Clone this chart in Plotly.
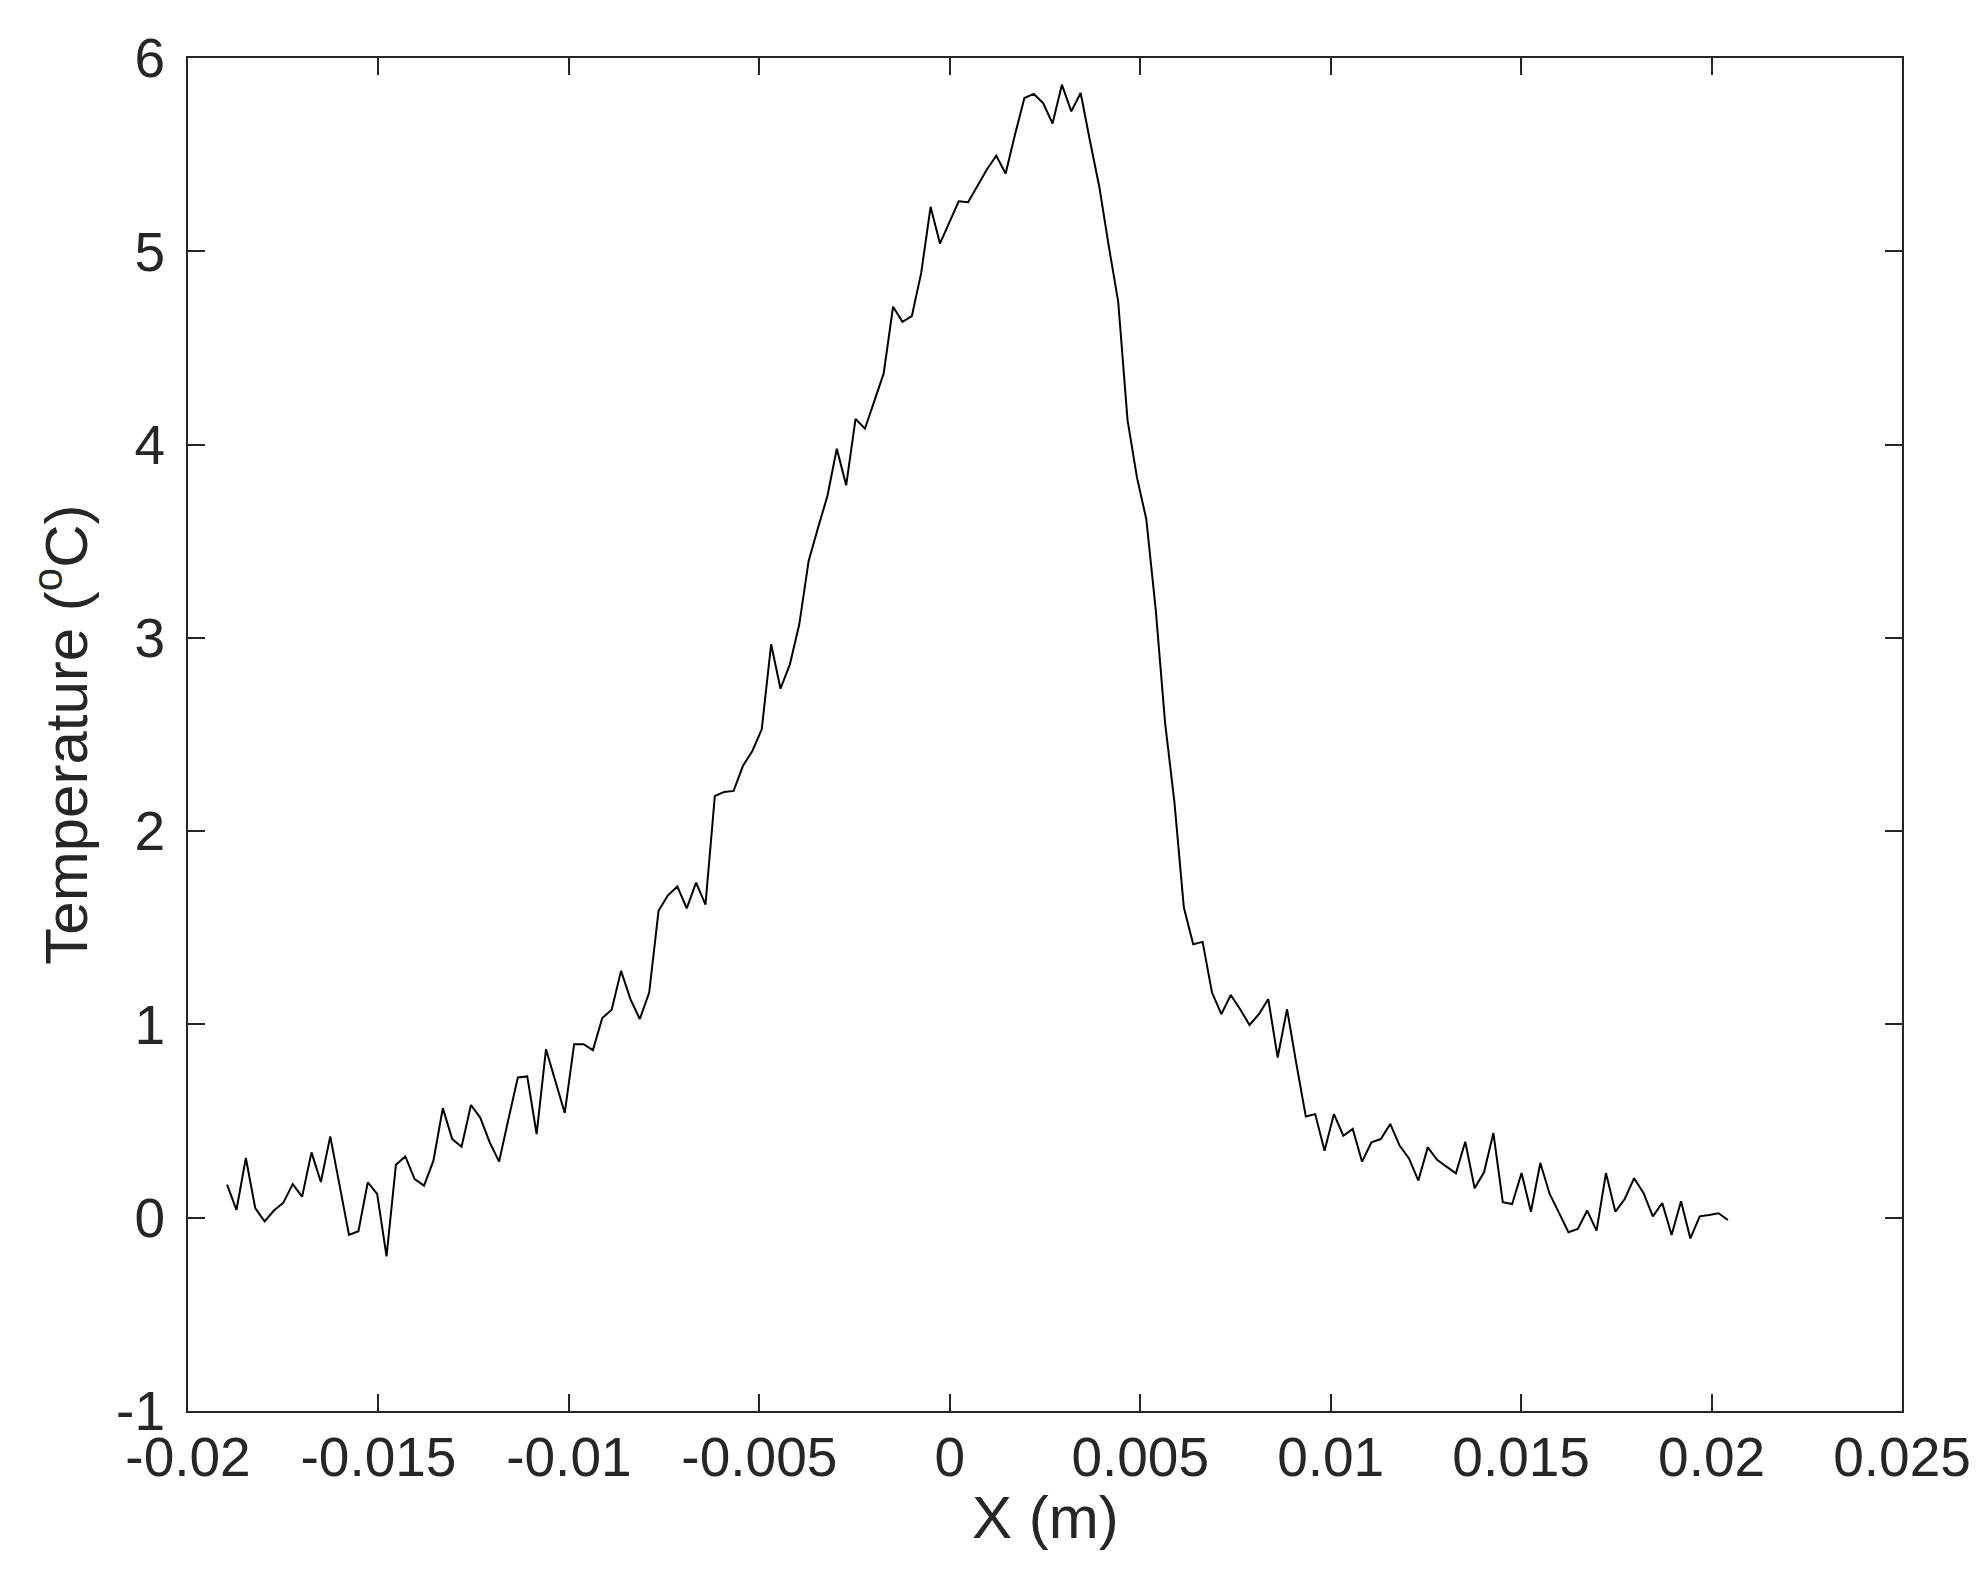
import plotly.graph_objects as go

# Sampling grid of the profile (m): first position and uniform spacing
X_START = -0.018974
X_STEP = 0.00024627

# Temperature readings (deg C) along the profile
temperature = [
    0.171, 0.040, 0.309, 0.050, -0.019, 0.037, 0.078, 0.174, 0.109, 0.338,
    0.185, 0.421, 0.166, -0.089, -0.070, 0.183, 0.123, -0.200, 0.274, 0.317,
    0.200, 0.166, 0.295, 0.567, 0.407, 0.367, 0.583, 0.517, 0.390, 0.290,
    0.511, 0.726, 0.731, 0.433, 0.872, 0.707, 0.542, 0.898, 0.898, 0.867,
    1.033, 1.076, 1.277, 1.131, 1.028, 1.165, 1.588, 1.668, 1.714, 1.600,
    1.734, 1.620, 2.182, 2.203, 2.208, 2.338, 2.415, 2.527, 2.967, 2.737,
    2.863, 3.070, 3.398, 3.570, 3.734, 3.978, 3.789, 4.133, 4.082, 4.225,
    4.368, 4.713, 4.635, 4.664, 4.888, 5.230, 5.040, 5.150, 5.259, 5.254,
    5.335, 5.423, 5.494, 5.402, 5.604, 5.793, 5.814, 5.767, 5.661, 5.862,
    5.724, 5.819, 5.569, 5.330, 5.025, 4.740, 4.125, 3.830, 3.613, 3.147,
    2.560, 2.148, 1.605, 1.415, 1.427, 1.165, 1.053, 1.152, 1.079, 0.997,
    1.053, 1.131, 0.829, 1.079, 0.795, 0.524, 0.536, 0.347, 0.536, 0.424,
    0.459, 0.290, 0.390, 0.407, 0.485, 0.373, 0.307, 0.192, 0.364, 0.300,
    0.264, 0.230, 0.393, 0.152, 0.235, 0.438, 0.080, 0.071, 0.231, 0.031,
    0.283, 0.123, 0.025, -0.075, -0.058, 0.037, -0.067, 0.231, 0.031, 0.097,
    0.204, 0.128, 0.007, 0.076, -0.089, 0.085, -0.107, 0.007, 0.014, 0.023,
    -0.012,
]
x_pos = [X_START + i * X_STEP for i in range(len(temperature))]

x_tick_vals = [-0.02, -0.015, -0.01, -0.005, 0, 0.005, 0.01, 0.015, 0.02, 0.025]
x_tick_text = ["-0.02", "-0.015", "-0.01", "-0.005", "0", "0.005", "0.01", "0.015", "0.02", "0.025"]
y_tick_vals = [-1, 0, 1, 2, 3, 4, 5, 6]
y_tick_text = ["-1", "0", "1", "2", "3", "4", "5", "6"]

x_title = "X (m)"
y_title = "Temperature (<sup>o</sup>C)"

AX = "#262626"
FONT = "Liberation Sans, Arial, Helvetica, sans-serif"

fig = go.Figure()
fig.add_trace(go.Scatter(x=x_pos, y=temperature, mode="lines",
                         line=dict(color="black", width=2), showlegend=False))

axis_common = dict(
    showline=True, linecolor=AX, linewidth=2, mirror="ticks",
    ticks="inside", ticklen=17, tickwidth=2, tickcolor=AX,
    showgrid=False, zeroline=False,
    tickfont=dict(family=FONT, size=55, color=AX),
)

fig.update_xaxes(range=[-0.02, 0.025], tickvals=x_tick_vals, ticktext=x_tick_text,
                 ticklabelstandoff=-3, **axis_common)
fig.update_yaxes(range=[-1, 6], tickvals=y_tick_vals, ticktext=y_tick_text,
                 ticklabelstandoff=10, **axis_common)

fig.add_annotation(text=x_title, xref="paper", yref="paper", x=0.5, y=-0.079,
                   xanchor="center", yanchor="middle", showarrow=False,
                   font=dict(family=FONT, size=60, color=AX))
fig.add_annotation(text=y_title, xref="paper", yref="paper", x=-0.074, y=0.5,
                   xanchor="center", yanchor="middle", showarrow=False, textangle=-90,
                   font=dict(family=FONT, size=60, color=AX))

fig.update_layout(
    width=1983, height=1572,
    margin=dict(l=180, r=89, t=50, b=169),
    paper_bgcolor="white", plot_bgcolor="white",
)

fig.write_html("out.html")
